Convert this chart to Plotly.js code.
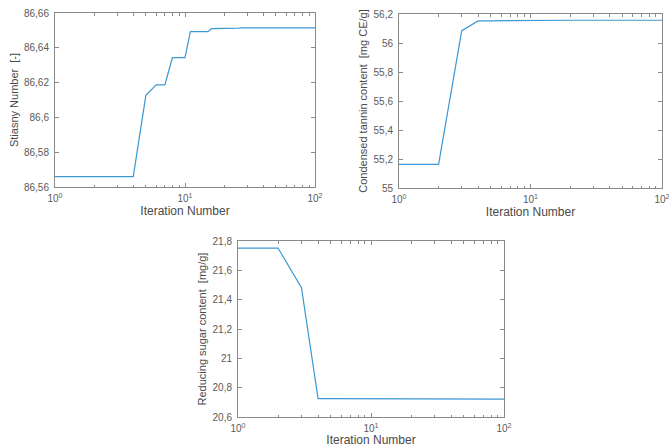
<!DOCTYPE html>
<html>
<head>
<meta charset="utf-8">
<script src="https://cdn.plot.ly/plotly-3.0.1.min.js"></script>
<style>html,body{margin:0;padding:0;background:#fff;}#chart{width:669px;height:447px;}</style>
</head>
<body>
<div id="chart"></div>
<script>
// Data
var iterStiasny = [1, 2, 3, 4, 5, 6, 7, 8, 9, 10, 11, 12, 13, 14, 15, 16, 18, 20, 26, 27, 40, 60, 100];
var stiasny = [86.566, 86.566, 86.566, 86.566, 86.6127, 86.6187, 86.6187, 86.6343, 86.6343, 86.6343, 86.6493, 86.6493, 86.6493, 86.6493, 86.6493, 86.651, 86.651, 86.6512, 86.6513, 86.6515, 86.6515, 86.6515, 86.6515];
var iterTannin = [1, 2, 3, 4, 5, 6, 7, 8, 9, 10, 20, 50, 100];
var tannin = [55.163, 55.163, 56.085, 56.152, 56.153, 56.154, 56.155, 56.156, 56.157, 56.157, 56.157, 56.157, 56.157];
var iterSugar = [1, 2, 3, 4, 5, 10, 20, 50, 100];
var sugar = [21.752, 21.752, 21.482, 20.725, 20.725, 20.724, 20.724, 20.723, 20.722];

var xTickVals = [1, 10, 100];
var xTickText = ['10<sup>0</sup>', '10<sup>1</sup>', '10<sup>2</sup>'];
var xMinorVals = [2, 3, 4, 5, 6, 7, 8, 9, 20, 30, 40, 50, 60, 70, 80, 90];
var y1Ticks = [86.56, 86.58, 86.6, 86.62, 86.64, 86.66];
var y2Ticks = [55, 55.2, 55.4, 55.6, 55.8, 56, 56.2];
var y3Ticks = [20.6, 20.8, 21, 21.2, 21.4, 21.6, 21.8];

var xTitle = 'Iteration Number';
var yTitles = ['Stiasny Number  [-]', 'Condensed tannin content  [mg CE/g]', 'Reducing sugar content  [mg/g]'];

var lineColor = '#3c97d3';
var axColor = '#8a8a8a';
var txtColor = '#5a5a5a';
var fontFam = 'Liberation Sans, Arial, sans-serif';

function xaxisDef(dom, anchor) {
  return {
    type: 'log', domain: dom, anchor: anchor,
    range: [0, 2], tickmode: 'array', tickvals: xTickVals, ticktext: xTickText,
    ticks: 'inside', ticklen: 4, tickcolor: axColor, tickwidth: 1,
    minor: {tickmode: 'array', tickvals: xMinorVals, ticks: 'inside', ticklen: 2.5, tickcolor: axColor, showgrid: false},
    showline: true, linecolor: axColor, linewidth: 1, mirror: 'ticks',
    showgrid: false, zeroline: false,
    ticklabeloverflow: 'allow', ticklabelstandoff: 2,
    tickfont: {family: fontFam, size: 10, color: txtColor},
    title: {text: xTitle, font: {family: fontFam, size: 12, color: '#4a4a4a'}, standoff: 3}
  };
}
function yaxisDef(dom, anchor, rng, tv, title) {
  return {
    domain: dom, anchor: anchor, range: rng,
    tickmode: 'array', tickvals: tv,
    ticks: 'inside', ticklen: 4, tickcolor: axColor,
    showline: true, linecolor: axColor, linewidth: 1, mirror: 'ticks',
    showgrid: false, zeroline: false,
    ticklabelstandoff: 3,
    tickfont: {family: fontFam, size: 10, color: txtColor},
    title: {text: title, font: {family: fontFam, size: 11, color: '#4a4a4a'}, standoff: 3}
  };
}

var traces = [
  {x: iterStiasny, y: stiasny, xaxis: 'x', yaxis: 'y', type: 'scatter', mode: 'lines', line: {color: lineColor, width: 1.2}, showlegend: false, hoverinfo: 'skip'},
  {x: iterTannin, y: tannin, xaxis: 'x2', yaxis: 'y2', type: 'scatter', mode: 'lines', line: {color: lineColor, width: 1.2}, showlegend: false, hoverinfo: 'skip'},
  {x: iterSugar, y: sugar, xaxis: 'x3', yaxis: 'y3', type: 'scatter', mode: 'lines', line: {color: lineColor, width: 1.2}, showlegend: false, hoverinfo: 'skip'}
];

var W = 669, H = 447;
function dx(a, b) { return [a / W, b / W]; }
function dy(top, bottom) { return [1 - bottom / H, 1 - top / H]; }

var layout = {
  width: W, height: H,
  margin: {l: 0, r: 0, t: 0, b: 0},
  paper_bgcolor: '#ffffff', plot_bgcolor: '#ffffff',
  separators: ', ',
  font: {family: fontFam},
  xaxis: xaxisDef(dx(55, 315), 'y'),
  yaxis: yaxisDef(dy(13, 187), 'x', [86.56, 86.66], y1Ticks, yTitles[0]),
  xaxis2: xaxisDef(dx(399, 662), 'y2'),
  yaxis2: yaxisDef(dy(14, 188), 'x2', [55, 56.2], y2Ticks, yTitles[1]),
  xaxis3: xaxisDef(dx(238, 504), 'y3'),
  yaxis3: yaxisDef(dy(241, 417), 'x3', [20.6, 21.8], y3Ticks, yTitles[2])
};

Plotly.newPlot('chart', traces, layout, {staticPlot: true, displayModeBar: false});
</script>
</body>
</html>
